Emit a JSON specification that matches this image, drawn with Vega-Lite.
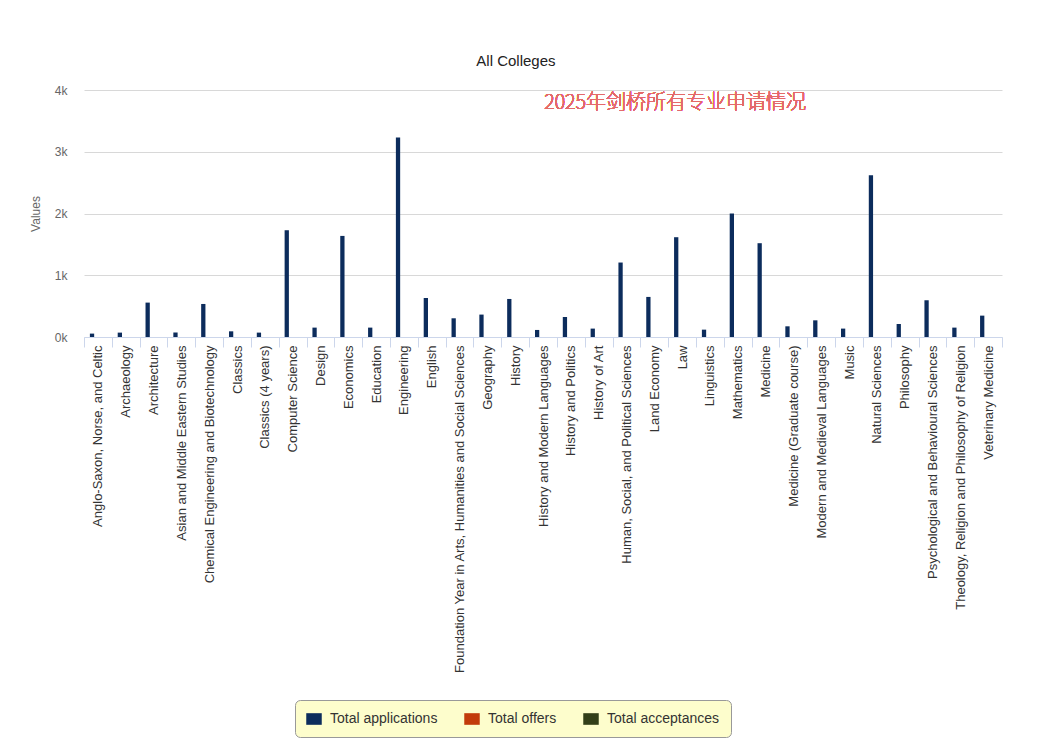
{
  "$schema": "https://vega.github.io/schema/vega-lite/v6.json",
  "width": 918,
  "height": 247,
  "padding": {"left": 29, "top": 54, "right": 40, "bottom": 5},
  "background": "white",
  "title": {"text": "All Colleges", "fontSize": 15, "fontWeight": "normal", "color": "#222", "font": "Liberation Sans", "anchor": "middle", "frame": "bounds", "offset": 15},
  "config": {"view": {"stroke": null}, "font": "Liberation Sans"},
  "data": {"values": [
    {"subject": "Anglo-Saxon, Norse, and Celtic", "series": "Total applications", "value": 55},
    {"subject": "Archaeology", "series": "Total applications", "value": 71},
    {"subject": "Architecture", "series": "Total applications", "value": 557},
    {"subject": "Asian and Middle Eastern Studies", "series": "Total applications", "value": 71},
    {"subject": "Chemical Engineering and Biotechnology", "series": "Total applications", "value": 535},
    {"subject": "Classics", "series": "Total applications", "value": 92},
    {"subject": "Classics (4 years)", "series": "Total applications", "value": 71},
    {"subject": "Computer Science", "series": "Total applications", "value": 1729},
    {"subject": "Design", "series": "Total applications", "value": 152},
    {"subject": "Economics", "series": "Total applications", "value": 1637},
    {"subject": "Education", "series": "Total applications", "value": 152},
    {"subject": "Engineering", "series": "Total applications", "value": 3232},
    {"subject": "English", "series": "Total applications", "value": 632},
    {"subject": "Foundation Year in Arts, Humanities and Social Sciences", "series": "Total applications", "value": 303},
    {"subject": "Geography", "series": "Total applications", "value": 363},
    {"subject": "History", "series": "Total applications", "value": 616},
    {"subject": "History and Modern Languages", "series": "Total applications", "value": 114},
    {"subject": "History and Politics", "series": "Total applications", "value": 324},
    {"subject": "History of Art", "series": "Total applications", "value": 136},
    {"subject": "Human, Social, and Political Sciences", "series": "Total applications", "value": 1206},
    {"subject": "Land Economy", "series": "Total applications", "value": 649},
    {"subject": "Law", "series": "Total applications", "value": 1616},
    {"subject": "Linguistics", "series": "Total applications", "value": 119},
    {"subject": "Mathematics", "series": "Total applications", "value": 2000},
    {"subject": "Medicine", "series": "Total applications", "value": 1519},
    {"subject": "Medicine (Graduate course)", "series": "Total applications", "value": 173},
    {"subject": "Modern and Medieval Languages", "series": "Total applications", "value": 270},
    {"subject": "Music", "series": "Total applications", "value": 136},
    {"subject": "Natural Sciences", "series": "Total applications", "value": 2621},
    {"subject": "Philosophy", "series": "Total applications", "value": 211},
    {"subject": "Psychological and Behavioural Sciences", "series": "Total applications", "value": 595},
    {"subject": "Theology, Religion and Philosophy of Religion", "series": "Total applications", "value": 152},
    {"subject": "Veterinary Medicine", "series": "Total applications", "value": 346}
  ]},
  "layer": [
    {
      "mark": {"type": "bar"},
      "encoding": {
        "x": {"field": "subject", "type": "nominal", "sort": null,
          "scale": {"paddingInner": 0, "paddingOuter": 0},
          "axis": {"title": null, "labelAngle": -90, "labelFontSize": 13, "labelColor": "#333", "labelLimit": 400,
            "tickBand": "extent", "tickSize": 10, "tickColor": "#ccd6eb", "domainColor": "#ccd6eb", "labelPadding": -2, "grid": false}},
        "xOffset": {"field": "series", "type": "nominal",
          "scale": {"domain": ["Total applications", "Total offers", "Total acceptances"], "paddingInner": 0.273, "paddingOuter": 1.164}},
        "y": {"field": "value", "type": "quantitative",
          "scale": {"domain": [0, 4000], "nice": false},
          "axis": {"title": "Values", "titleColor": "#666", "titleFontWeight": "normal", "titleFontSize": 12, "titlePadding": 12,
            "values": [0, 1000, 2000, 3000, 4000], "labelExpr": "datum.value / 1000 + 'k'", "labelColor": "#666", "labelFontSize": 12,
            "labelPadding": 17, "ticks": false, "domain": false, "gridColor": "#d8d8d8"}},
        "color": {"field": "series", "type": "nominal",
          "scale": {"domain": ["Total applications", "Total offers", "Total acceptances"], "range": ["#0c2c5c", "#c23b0b", "#323f18"]},
          "legend": {"title": null, "orient": "none", "legendX": 211, "legendY": 610, "direction": "horizontal", "labelFontSize": 14, "labelColor": "#333",
            "fillColor": "#fdfdcc", "strokeColor": "#999", "cornerRadius": 5, "padding": 11, "labelOffset": 8,
            "symbolType": "M-1,-0.75H1V0.75H-1Z", "symbolSize": 240, "symbolStrokeWidth": 0, "columnPadding": 26, "symbolOpacity": 1}}
      }
    },
    {
      "mark": {"type": "text", "text": "2025年剑桥所有专业申请情况", "font": "Noto Sans CJK SC", "fontWeight": 100, "fontSize": 20, "color": "#e46a6a", "align": "center", "baseline": "middle", "dx": -7},
      "encoding": {
        "x": {"datum": "Law", "type": "nominal"},
        "y": {"datum": 3790, "type": "quantitative"}
      }
    }
  ]
}
